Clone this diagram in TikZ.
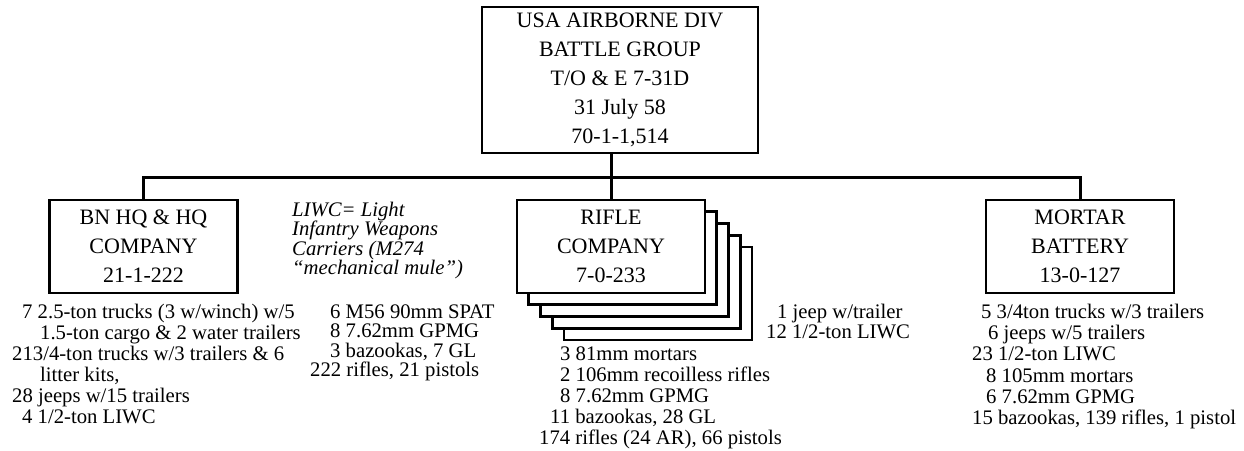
\documentclass[tikz,border=0pt]{standalone}
\usepackage{fontspec}
\setmainfont{Liberation Serif}
\usetikzlibrary{positioning}
\tikzset{
  unitbox/.style={draw,line width=2.6pt,fill=white,minimum width=188pt,minimum height=93pt,align=center,inner sep=2pt,font=\fontsize{22}{29}\selectfont},
  listline/.style={anchor=base west,inner sep=0pt,font=\fontsize{20.7}{21}\selectfont},
  noteline/.style={listline,font=\fontsize{20.7}{20}\itshape},
  link/.style={line width=3pt},
}
\begin{document}
\begin{tikzpicture}[x=1pt,y=-1pt]
\useasboundingbox (0,0) rectangle (1244,450);
\node[unitbox,minimum width=276pt,minimum height=146pt,line width=2pt] (bg) at (620,80) {USA AIRBORNE DIV\\BATTLE GROUP\\T/O \& E 7-31D\\31 July 58\\70-1-1,514};
\node[unitbox] (hqco) at (143.5,246.5) {BN HQ \& HQ\\COMPANY\\21-1-222};
\foreach \k in {4,3,2,1}
  \node[unitbox] (rifle\k) at (611+11.75*\k,246.5+11.75*\k) {};
\node[unitbox] (rifle) at (611,246.5) {RIFLE\\COMPANY\\7-0-233};
\node[unitbox] (mortar) at (1080,246.5) {MORTAR\\BATTERY\\13-0-127};
% connectors
\coordinate (bus) at (611,177);
\draw[link] (hqco.north) |- (bus) -| (mortar.north);
\draw[link] (bg.south -| rifle.north) -- (rifle.north);
% equipment lists
\foreach \lx/\ly/\txt [count=\i] in {22/318/{7 2.5-ton trucks (3 w/winch) w/5},40/339/{1.5-ton cargo \& 2 water trailers},12/360/{213/4-ton trucks w/3 trailers \& 6},40/381/{litter kits,},12/402/{28 jeeps w/15 trailers},22/423/{4 1/2-ton LIWC}}
  \node[listline] (hqline\i) at (\lx,\ly) {\txt};
\foreach \lx/\ly/\txt [count=\i] in {292/216/{LIWC= Light},292/235.5/{Infantry Weapons},292/255/{Carriers (M274},292/274.5/{“mechanical mule”)}}
  \node[noteline] (note\i) at (\lx,\ly) {\txt};
\foreach \lx/\ly/\txt [count=\i] in {330/318/{6 M56 90mm SPAT},330/337.5/{8 7.62mm GPMG},330/357/{3 bazookas, 7 GL},310/376.5/{222 rifles, 21 pistols}}
  \node[listline] (hqarm\i) at (\lx,\ly) {\txt};
\foreach \lx/\ly/\txt [count=\i] in {777/318/{1 jeep w/trailer},766/338/{12 1/2-ton LIWC}}
  \node[listline] (rifleveh\i) at (\lx,\ly) {\txt};
\foreach \lx/\ly/\txt [count=\i] in {560/360/{3 81mm mortars},560/381/{2 106mm recoilless rifles},560/402/{8 7.62mm GPMG},550/423/{11 bazookas, 28 GL},539/444/{174 rifles (24 AR), 66 pistols}}
  \node[listline] (riflearm\i) at (\lx,\ly) {\txt};
\foreach \lx/\ly/\txt [count=\i] in {981/318/{5 3/4ton trucks w/3 trailers},988/339/{6 jeeps w/5 trailers},972/360/{23 1/2-ton LIWC},986/382/{8 105mm mortars},986/403/{6 7.62mm GPMG},972/424/{15 bazookas, 139 rifles, 1 pistol}}
  \node[listline] (mortline\i) at (\lx,\ly) {\txt};
\end{tikzpicture}
\end{document}
